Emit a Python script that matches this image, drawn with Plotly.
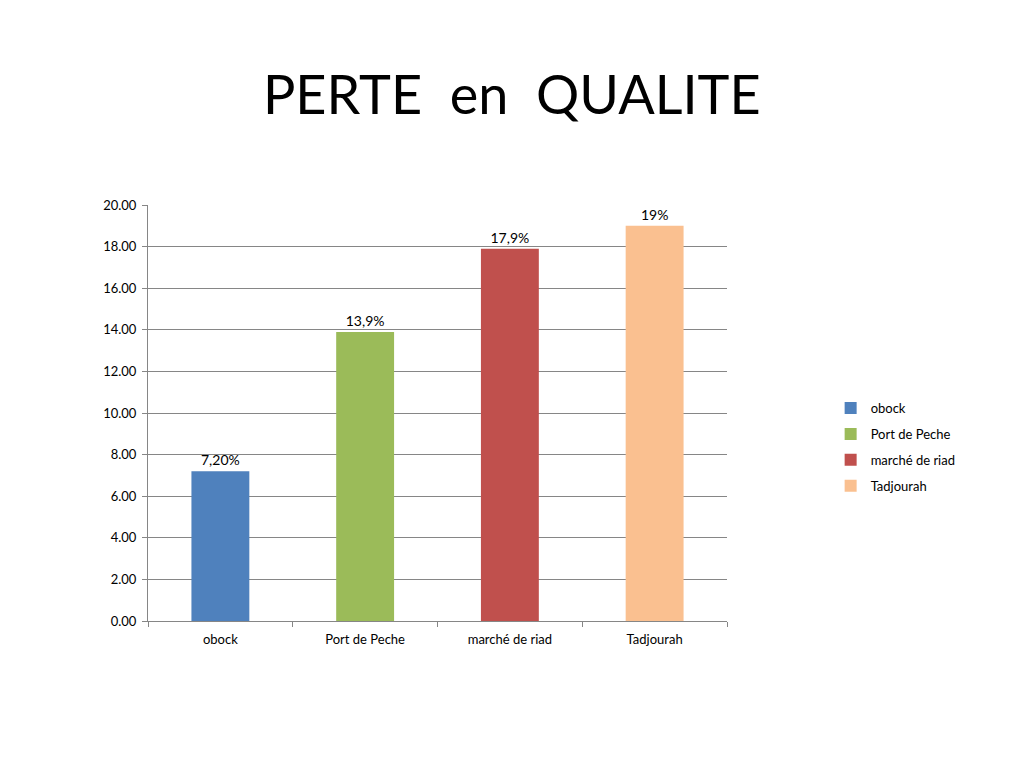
import plotly.graph_objects as go

categories = ["obock", "Port de Peche", "marché de riad", "Tadjourah"]
values = [7.2, 13.9, 17.9, 19.0]
labels = ["7,20%", "13,9%", "17,9%", "19%"]
colors = ["#4F81BD", "#9BBB59", "#C0504D", "#FAC090"]
y_ticks = [0, 2, 4, 6, 8, 10, 12, 14, 16, 18, 20]

fig = go.Figure()
for i, cat in enumerate(categories):
    fig.add_trace(go.Bar(
        x=[cat], y=[values[i]], name=cat,
        marker=dict(color=colors[i], line=dict(width=0)),
        width=0.4, offsetgroup="a", legendgroup=cat,
        text=[labels[i]], textposition="outside",
        textfont=dict(size=14, color="#000000"),
        cliponaxis=False,
    ))

font_fam = "Lato, 'Liberation Sans', sans-serif"
fig.update_layout(
    width=1024, height=768,
    paper_bgcolor="white", plot_bgcolor="white",
    margin=dict(l=140, r=305, t=197, b=155),
    barmode="overlay",
    font=dict(family=font_fam, size=13, color="#000000"),
    title=dict(text="PERTE\u00a0\u00a0en\u00a0\u00a0QUALITE", x=0.492, xref="container",
               xanchor="center", y=0.886, yanchor="middle",
               font=dict(size=54, family=font_fam, color="#000000")),
    showlegend=True,
    legend=dict(x=1.179, y=0.548, xanchor="left", yanchor="top",
                font=dict(size=13), tracegroupgap=6, traceorder="grouped",
                itemwidth=30, bgcolor="rgba(0,0,0,0)"),
    xaxis=dict(showline=True, linecolor="#868686", linewidth=1,
               ticks="outside", tickcolor="#868686", ticklen=5,
               tickson="boundaries", showgrid=False,
               ticklabelstandoff=6,
               tickfont=dict(size=13)),
    yaxis=dict(range=[0, 20], tickvals=y_ticks, tickformat=".2f",
               showline=True, linecolor="#868686", linewidth=1,
               ticks="outside", tickcolor="#868686", ticklen=5,
               ticklabelstandoff=3,
               showgrid=True, gridcolor="#868686", gridwidth=1,
               zeroline=False, tickfont=dict(size=13)),
)

fig.write_html("out.html")
